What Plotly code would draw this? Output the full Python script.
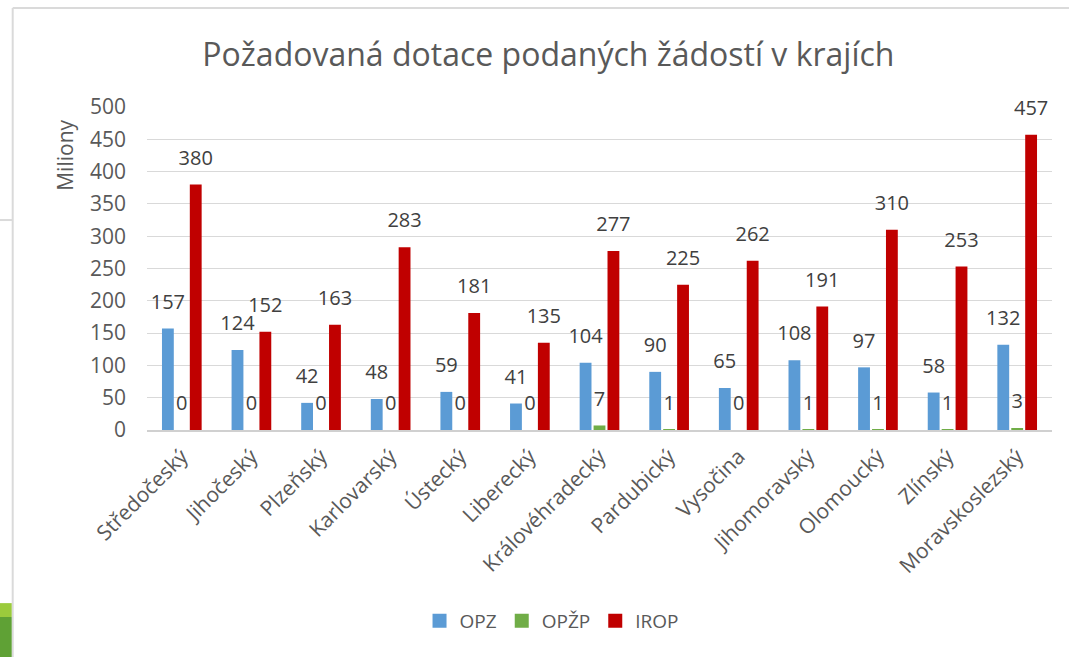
import plotly.graph_objects as go

kraje = ["Středočeský", "Jihočeský", "Plzeňský", "Karlovarský", "Ústecký", "Liberecký",
         "Královéhradecký", "Pardubický", "Vysočina", "Jihomoravský", "Olomoucký", "Zlínský",
         "Moravskoslezský"]
opz = [157, 124, 42, 48, 59, 41, 104, 90, 65, 108, 97, 58, 132]
opzp = [0, 0, 0, 0, 0, 0, 7, 1, 0, 1, 1, 1, 3]
irop = [380, 152, 163, 283, 181, 135, 277, 225, 262, 191, 310, 253, 457]
y_ticks = [0, 50, 100, 150, 200, 250, 300, 350, 400, 450, 500]

FONT = "Open Sans"
GRAY = "#595959"
series = [("OPZ", opz, "#5B9BD5"), ("OPŽP", opzp, "#70AD47"), ("IROP", irop, "#C00000")]

fig = go.Figure()
for i, (name, vals, col) in enumerate(series):
    fig.add_trace(go.Bar(
        name=name, x=kraje, y=vals, marker=dict(color=col, line=dict(width=0)),
        offsetgroup=str(i), cliponaxis=False, showlegend=False,
    ))
for i, (name, vals, col) in enumerate(series):
    fig.add_trace(go.Scatter(
        x=kraje, y=vals, mode="markers+text", offsetgroup=str(i),
        marker=dict(size=22, opacity=0), text=[str(v) for v in vals],
        textposition="top center", cliponaxis=False, showlegend=False, hoverinfo="skip",
        textfont=dict(family=FONT, size=20, color="#404040"),
    ))
# legend entries with square swatches
for i, (name, vals, col) in enumerate(series):
    fig.add_trace(go.Scatter(
        x=[None], y=[None], mode="markers", name=name, offsetgroup=str(i),
        marker=dict(symbol="square", size=14, color=col),
    ))

fig.update_layout(
    width=1069, height=657,
    paper_bgcolor="white", plot_bgcolor="white",
    margin=dict(l=147, r=17, t=107, b=227, autoexpand=False),
    barmode="group", bargap=0.4, bargroupgap=0.15,
    scattermode="group", scattergap=0.4,
    title=dict(text="Požadovaná dotace podaných žádostí v krajích",
               font=dict(family=FONT, size=32, color=GRAY),
               x=0.513, xanchor="center", y=0.916, yanchor="middle"),
    font=dict(family=FONT, color=GRAY),
    legend=dict(orientation="h", x=0.447, xanchor="center", y=-0.591, yanchor="middle",
                font=dict(family=FONT, size=19, color=GRAY), traceorder="normal",
                itemwidth=30),
    showlegend=True,
)
fig.update_yaxes(range=[0, 500], tickvals=y_ticks, showgrid=True, gridcolor="#D9D9D9",
                 gridwidth=1, zeroline=False, showline=False,
                 tickfont=dict(family=FONT, size=21, color=GRAY), ticks="",
                 ticklabelstandoff=20)
fig.update_xaxes(tickangle=-45, tickfont=dict(family=FONT, size=21, color=GRAY),
                 showline=True, linecolor="#D0D0D0", linewidth=2, ticks="",
                 ticklabelstandoff=4)
fig.add_annotation(text="Miliony", xref="paper", yref="paper", x=-0.091, y=0.851,
                   xanchor="center", yanchor="middle",
                   textangle=-90, showarrow=False,
                   font=dict(family=FONT, size=21, color=GRAY))

# screenshot frame artifacts
fig.add_shape(type="line", xref="paper", yref="paper", x0=-0.1484, x1=1.021, y0=1.3065, y1=1.3065,
              line=dict(color="#DADADA", width=2))
fig.add_shape(type="line", xref="paper", yref="paper", x0=-0.1484, x1=-0.1484, y0=-0.71, y1=1.3065,
              line=dict(color="#DADADA", width=2))
fig.add_shape(type="line", xref="paper", yref="paper", x0=-0.1628, x1=-0.1484, y0=0.65, y1=0.65,
              line=dict(color="#DADADA", width=2))
fig.add_shape(type="rect", xref="paper", yref="paper", x0=-0.1628, x1=-0.1495, y0=-0.579, y1=-0.536,
              fillcolor="#9BCB3C", line=dict(width=0))
fig.add_shape(type="rect", xref="paper", yref="paper", x0=-0.1628, x1=-0.1495, y0=-0.71, y1=-0.579,
              fillcolor="#5FA135", line=dict(width=0))

fig.write_html("out.html", config={"displayModeBar": False},
               post_script="document.body.style.margin='0';")
